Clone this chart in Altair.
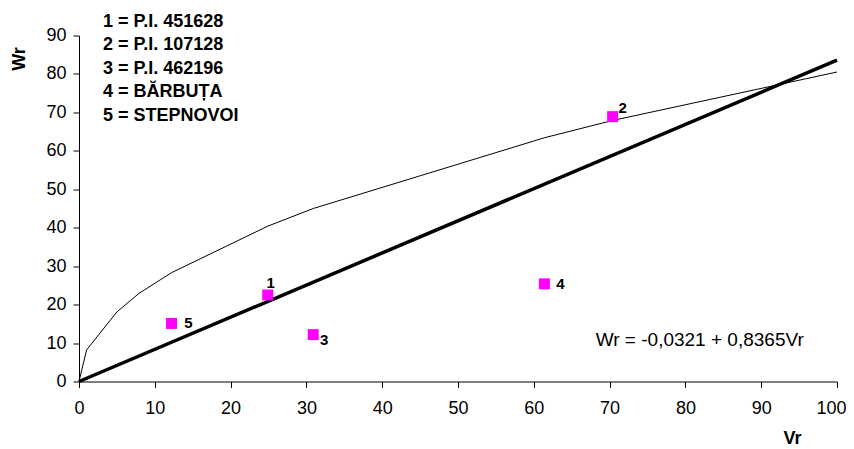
import altair as alt
import pandas as pd

# Parent points (Vr, Wr)
pt_ids = ["1", "2", "3", "4", "5"]
pt_vr = [24.9, 70.4, 30.9, 61.4, 12.2]
pt_wr = [22.5, 68.9, 12.2, 25.4, 15.1]
# label offsets (px) relative to each point
lbl_dx = [3, 10, 11, 16, 17]
lbl_dy = [-12, -9, 5, 0, 0]

# Limiting parabola
curve_vr = [0, 1.0, 5.0, 7.9, 12.2, 24.9, 30.9, 61.4, 70.4, 100]
curve_wr = [0, 8.2, 18.1, 22.9, 28.3, 40.4, 45.0, 63.4, 67.9, 80.5]

# Regression line end points
reg_vr = [0, 100]
reg_wr = [0, 83.6]

legend_lines = ["1 = P.I. 451628", "2 = P.I. 107128", "3 = P.I. 462196",
                "4 = BĂRBUȚA", "5 = STEPNOVOI"]
equation = "Wr = -0,0321 + 0,8365Vr"

x_ticks = list(range(0, 101, 10))
y_ticks = list(range(0, 91, 10))

FONT = "Liberation Sans"

pts = pd.DataFrame({"id": pt_ids, "Vr": pt_vr, "Wr": pt_wr})
curve = pd.DataFrame({"Vr": curve_vr, "Wr": curve_wr, "o": range(len(curve_vr))})
reg = pd.DataFrame({"Vr": reg_vr, "Wr": reg_wr})

xs = alt.Scale(domain=[0, 100], nice=False, zero=False)
ys = alt.Scale(domain=[0, 90], nice=False, zero=False)

xax = alt.Axis(values=x_ticks, tickCount=11, grid=False, title="Vr", titleX=713, titleY=57,
               titleAlign="center", titleBaseline="middle", titleFontWeight="bold",
               titleFontSize=18, titleFont=FONT, labelFont=FONT, labelFontSize=18,
               labelColor="black", tickColor="black", domainColor="black",
               tickSize=6, labelPadding=12, labelFlush=False, labelOverlap=False,
               labelOffset={"condition": {"test": "datum.value == 100", "value": -6}, "value": 0})
yax = alt.Axis(values=y_ticks, tickCount=10, grid=False, title="Wr", titleX=-60, titleY=23,
               titleAngle=270, titleAlign="center", titleBaseline="middle",
               titleFontWeight="bold", titleFontSize=18, titleFont=FONT,
               labelFont=FONT, labelFontSize=18, labelColor="black",
               tickColor="black", domainColor="black", tickSize=6,
               labelPadding=7, labelFlush=False, labelOverlap=False)

X = alt.X("Vr:Q", scale=xs, axis=xax)
Y = alt.Y("Wr:Q", scale=ys, axis=yax)

curve_layer = alt.Chart(curve).mark_line(color="black", strokeWidth=1).encode(
    x=X, y=Y, order="o:Q")
reg_layer = alt.Chart(reg).mark_line(color="black", strokeWidth=3.5).encode(x=X, y=Y)
pt_layer = alt.Chart(pts).mark_square(color="#FF00FF", size=121, opacity=1).encode(x=X, y=Y)

label_layers = []
for i in range(len(pt_ids)):
    label_layers.append(
        alt.Chart(pts.iloc[[i]]).mark_text(
            font=FONT, fontSize=15, fontWeight="bold", color="black",
            dx=lbl_dx[i], dy=lbl_dy[i], align="center", baseline="middle"
        ).encode(x=X, y=Y, text="id:N")
    )

legend_layer = alt.Chart(pd.DataFrame({"t": ["\n".join(legend_lines)]})).mark_text(
    font=FONT, fontSize=18, fontWeight="bold", color="black", align="left",
    baseline="middle", lineBreak="\n", lineHeight=23.6
).encode(x=alt.value(24), y=alt.value(-14), text="t:N")

eq_layer = alt.Chart(pd.DataFrame({"t": [equation]})).mark_text(
    font=FONT, fontSize=19, color="black", align="center", baseline="middle"
).encode(x=alt.value(620.7), y=alt.value(304.5), text="t:N")

chart = alt.layer(curve_layer, reg_layer, pt_layer, *label_layers, legend_layer, eq_layer).properties(
    width=758, height=346,
    autosize=alt.AutoSizeParams(type="none"),
    padding={"left": 71, "top": 27.5, "right": 9, "bottom": 68},
).configure(background="white", view=alt.ViewConfig(strokeWidth=0))

chart.save("out.html", embed_options={"renderer": "svg", "actions": False})
